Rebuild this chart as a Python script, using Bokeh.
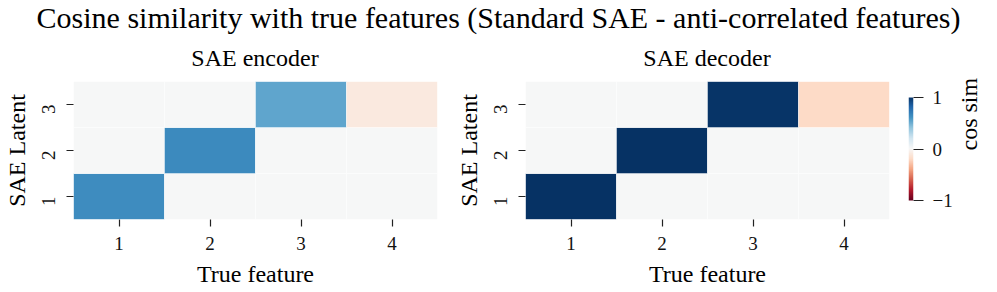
import numpy as np
from bokeh.plotting import figure
from bokeh.layouts import column, row
from bokeh.models import ColumnDataSource, LinearColorMapper, FixedTicker, Range1d
from bokeh.core.properties import value
from bokeh.embed import file_html
from bokeh.resources import INLINE

FONT = "Liberation Serif"

# ---- data ----
features = [1, 2, 3, 4]
latents = [1, 2, 3]
enc_vals = [
    [0.63, 0.00, 0.00, 0.00],   # latent 1
    [0.00, 0.64, 0.00, 0.00],   # latent 2
    [0.00, 0.00, 0.53, -0.10],  # latent 3
]
dec_vals = [
    [0.99, 0.00, 0.00, 0.00],
    [0.00, 0.99, 0.00, 0.00],
    [0.00, 0.00, 0.98, -0.20],
]
cbar_ticks = [-1, 0, 1]
cbar_labels = ["\u22121", "0", "1"]

suptitle = "Cosine similarity with true features (Standard SAE - anti-correlated features)"
titles = ["SAE encoder", "SAE decoder"]

# ---- RdBu palette (low=-1 red, high=+1 blue) ----
rdbu = ['#67001f', '#b2182b', '#d6604d', '#f4a582', '#fddbc7', '#f7f7f7',
        '#d1e5f0', '#92c5de', '#4393c3', '#2166ac', '#053061']
rgb = np.array([[int(c[i:i + 2], 16) for i in (1, 3, 5)] for c in rdbu], dtype=float)
pos = np.linspace(0, 1, len(rdbu))
pal = []
for tt in np.linspace(0, 1, 256):
    r, g, b = (np.interp(tt, pos, rgb[:, k]) for k in range(3))
    pal.append("#%02x%02x%02x" % (int(round(r)), int(round(g)), int(round(b))))
mapper = LinearColorMapper(palette=pal, low=-1, high=1)

TOP_B, BOT_B = 9, 73


def make_source(vals):
    xs, ys, vs = [], [], []
    for i, lat in enumerate(latents):
        for j, f in enumerate(features):
            xs.append(f); ys.append(lat); vs.append(vals[i][j])
    return ColumnDataSource(dict(x=xs, y=ys, v=vs))


def style_axis(ax, tick_out=7):
    ax.axis_line_color = None
    ax.minor_tick_line_color = None
    ax.major_tick_in = 0
    ax.major_tick_out = tick_out
    ax.major_tick_line_color = "#222222"
    ax.major_tick_line_width = 1.2
    ax.major_label_text_font = FONT
    ax.major_label_text_font_size = "19px"
    ax.major_label_text_color = "#111111"
    ax.major_label_text_line_height = 1.0
    ax.axis_label_text_font = FONT
    ax.axis_label_text_font_size = "24px"
    ax.axis_label_text_font_style = "normal"
    ax.axis_label_text_color = "black"
    ax.axis_label_text_line_height = 1.0


def heatmap(vals, width, bl, br):
    p = figure(width=width, height=220, output_backend="svg", toolbar_location=None,
               x_range=Range1d(0.5, 4.5), y_range=Range1d(0.5, 3.5),
               min_border_left=bl, min_border_right=br,
               min_border_top=TOP_B, min_border_bottom=BOT_B)
    p.rect(x="x", y="y", width=1, height=1, source=make_source(vals),
           fill_color={"field": "v", "transform": mapper},
           line_color="white", line_width=0.6, line_alpha=0.7)
    p.grid.visible = False
    p.outline_line_color = None
    p.xaxis.ticker = FixedTicker(ticks=features)
    p.yaxis.ticker = FixedTicker(ticks=latents)
    p.xaxis.axis_label = "True feature"
    p.yaxis.axis_label = "SAE Latent"
    style_axis(p.xaxis[0]); style_axis(p.yaxis[0])
    p.xaxis.major_label_standoff = 10
    p.xaxis.axis_label_standoff = 8
    p.yaxis.major_label_orientation = np.pi / 2
    p.yaxis.major_label_standoff = 18
    p.yaxis.axis_label_standoff = 3
    return p


p1 = heatmap(enc_vals, 452, 72, 15)
p2 = heatmap(dec_vals, 446, 72, 9)

# ---- colorbar as its own small figure (bar spans -1..1, frame is a bit taller) ----
p3 = figure(width=99, height=220, output_backend="svg", toolbar_location=None,
            x_range=Range1d(0, 1), y_range=Range1d(-1.369, 1.311), x_axis_location=None,
            y_axis_location="right",
            min_border_left=10, min_border_right=84,
            min_border_top=TOP_B, min_border_bottom=BOT_B)
grad = np.linspace(-1, 1, 256).reshape(-1, 1)
p3.image(image=[grad], x=0, y=-1, dw=1, dh=2, color_mapper=mapper)
p3.grid.visible = False
p3.outline_line_color = None
p3.yaxis.ticker = FixedTicker(ticks=cbar_ticks)
p3.yaxis.major_label_overrides = {k: v for k, v in zip(cbar_ticks, cbar_labels)}
p3.yaxis.axis_label = "cos sim"
style_axis(p3.yaxis[0], tick_out=10)
p3.yaxis.major_label_standoff = 9
p3.yaxis.axis_label_standoff = 13
try:
    p3.yaxis.axis_label_orientation = np.pi / 2
except Exception:
    pass

# ---- top title strip ----
top = figure(width=997, height=72, output_backend="svg", toolbar_location=None,
             x_range=Range1d(0, 997), y_range=Range1d(72, 0), min_border=0,
             x_axis_location=None, y_axis_location=None)
top.grid.visible = False
top.outline_line_color = None
top.text(x=[498], y=[17], text=[suptitle], text_font=value(FONT), text_font_size="30px",
         text_align="center", text_baseline="middle", text_color="black")
top.text(x=[254.5, 706.5], y=[57, 57], text=titles, text_font=value(FONT), text_font_size="24px",
         text_align="center", text_baseline="middle", text_color="black")

layout = column(top, row(p1, p2, p3))
open("out.html", "w").write(file_html(layout, INLINE))
